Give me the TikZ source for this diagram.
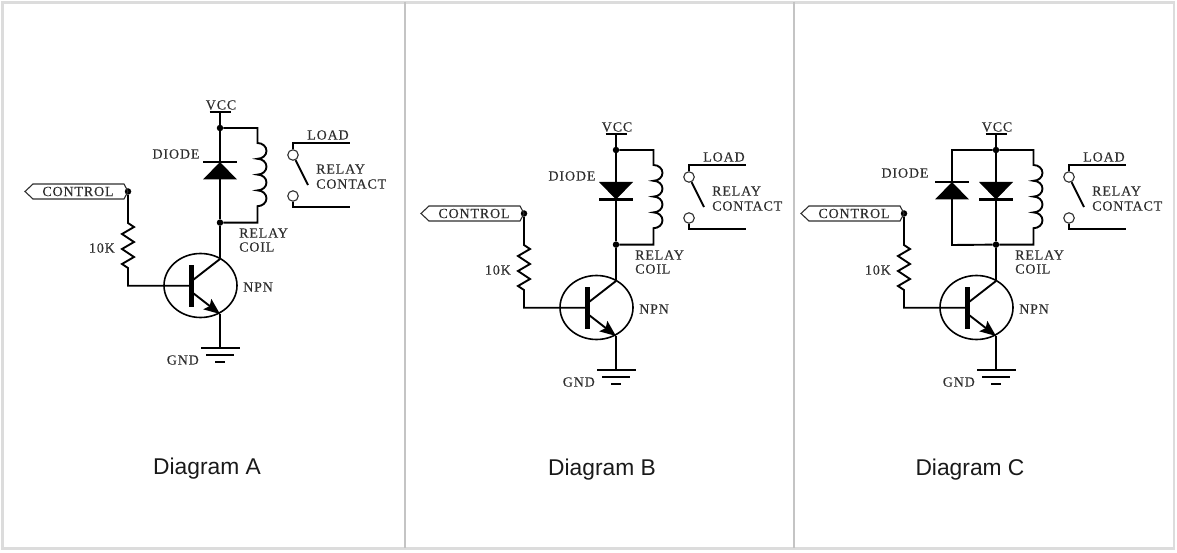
\documentclass[tikz,border=0pt]{standalone}
\usepackage{fontspec}
\setmainfont{Liberation Sans}
\newfontfamily\circfont[LetterSpace=6,FakeBold=.25]{Liberation Serif}
\usetikzlibrary{arrows.meta,shapes.geometric}
\definecolor{framegray}{HTML}{DCDCDC}
\definecolor{divgray}{HTML}{C4C4C4}
\definecolor{inkgray}{HTML}{2E2E2E}
\tikzset{
	wire/.style={line width=1.9pt,black},
	thin wire/.style={line width=1.1pt,inkgray},
	junction/.style={circle,fill=black,inner sep=0pt,minimum size=6.5pt},
	contact/.style={circle,draw=inkgray,line width=1.1pt,fill=white,inner sep=0pt,minimum size=10.5pt},
	lbl/.style={font=\circfont\fontsize{14}{15}\selectfont,text=inkgray,inner sep=0pt},
	caption/.style={font=\fontsize{22.8}{24}\selectfont,text=black!90,inner sep=0pt},
	% origin of a diagram is the VCC bar above the stem
	relay circuit/.pic={
		\coordinate (-vcc) at (0,0);
		\node[junction] (-top) at (0,16) {};
		\node[junction] (-bot) at (0,110.6) {};
		\node[junction] (-ctl) at (-92,79.5) {};
		\node[ellipse,draw=black,line width=1.6pt,minimum width=73pt,minimum height=64pt,inner sep=0pt] (-npn) at (-19.5,173.5) {};
		\coordinate (-base) at (-29,173.7);
		\coordinate (-coll) at (0,147);
		\coordinate (-emit) at (0,202);
		\coordinate (-gnd) at (0,236);
		\node[lbl] (-vcclbl) at (1,-7) {VCC};
		\node[lbl,anchor=west] (-coil1) at (19,121) {RELAY};
		\node[lbl,anchor=west] (-coil2) at (19,135) {COIL};
		\node[lbl,anchor=west] (-npnlbl) at (23,175) {NPN};
		\node[lbl,anchor=east] (-reslbl) at (-105,136) {10K};
		\node[lbl,anchor=east] (-gndlbl) at (-21,248) {GND};
		\node[lbl] (-ctllbl) at (-142,79.5) {CONTROL};
		\node[lbl] (-load) at (108,23) {LOAD};
		\node[lbl,anchor=west] (-rc1) at (96,57) {RELAY};
		\node[lbl,anchor=west] (-rc2) at (96,72) {CONTACT};
		\draw[wire] (-10.5,0) -- (10.5,0);
		\draw[wire] (-vcc) -- (-top) -- (-bot) -- (-coll);
		\draw[wire] (-top) -- (37.5,16) -- (37.5,31)
			foreach \i in {1,...,4} {arc[start angle=90,end angle=-90,x radius=9pt,y radius=7.9pt]}
			-- (37.5,110.6) -- (-bot);
		% transistor
		\draw[wire] (-ctl) -- (-92,111) -- ++(6,4) -- ++(-12,7) -- ++(12,8) -- ++(-12,7) -- ++(12,8) -- ++(-12,7) -- ++(6,4)
			-- (-92,173.7) -- (-base);
		\draw[line width=5pt] (-29,153) -- (-29,195);
		\draw[wire] (-27,168) -- (-coll);
		\draw[wire,-{Stealth[length=16pt,width=13pt,inset=3pt]}] (-27,181) -- (-emit);
		\draw[wire] (-emit) -- (-gnd);
		% ground
		\draw[wire] (-19,236) -- (20,236);
		\draw[wire] (-14,243) -- (14,243);
		\draw[wire] (-5,250) -- (5,250);
		% control tag
		\draw[thin wire] (-195,79.5) -- (-187,72) -- (-96,72) -- (-92,79.5) -- (-96,87) -- (-187,87) -- cycle;
		% relay contact
		\node[contact] (-k1) at (73,43) {};
		\node[contact] (-k2) at (73,84) {};
		\draw[wire] (-k1) -- (73,31) -- (130,31);
		\draw[wire] (-k2) -- (73,95) -- (130,95);
		\draw[wire] (-k1) -- (88,73);
	},
	diode up/.pic={
		\fill (-17,17.5) -- (17,17.5) -- (0,0) -- cycle;
		\draw[line width=2.6pt] (-17,0) -- (17,0);
	},
	diode down/.pic={
		\fill (-17,0) -- (17,0) -- (0,17.5) -- cycle;
		\draw[line width=2.6pt] (-17,17.5) -- (17,17.5);
	}
}
\begin{document}
\begin{tikzpicture}[x=1pt,y=-1pt]
	\useasboundingbox (0,0) rectangle (1177,553);
	\draw[framegray,line width=2.2pt] (2.5,2.5) rectangle (1174,548.5);
	\draw[divgray,line width=1.6pt] (405,2) -- (405,548);
	\draw[divgray,line width=1.6pt] (794,2) -- (794,548);
	% diagram A
	\pic (A) at (220,112) {relay circuit};
	\pic at (220,162) {diode up};
	\node[lbl] (Adiode) at (176,154) {DIODE};
	\node[caption] (Acap) at (207,469) {Diagram A};
	% diagram B
	\pic (B) at (616,134) {relay circuit};
	\pic at (616,182) {diode down};
	\node[lbl] (Bdiode) at (572,176) {DIODE};
	\node[caption] (Bcap) at (602,470) {Diagram B};
	% diagram C
	\pic (C) at (996,134) {relay circuit};
	\pic at (996,182) {diode down};
	\pic at (952,182) {diode up};
	\draw[wire] (C-top) -- (952,150) -- (952,245) -- (C-bot);
	\node[lbl] (Cdiode) at (905,173) {DIODE};
	\node[caption] (Ccap) at (970,470) {Diagram C};
\end{tikzpicture}
\end{document}
